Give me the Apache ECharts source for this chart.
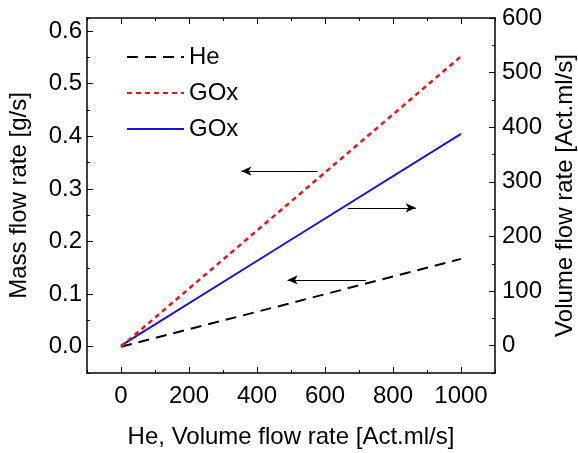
<!DOCTYPE html>
<html>
<head>
<meta charset="utf-8">
<script src="https://cdn.jsdelivr.net/npm/echarts@6/dist/echarts.min.js"></script>
<style>html,body{margin:0;padding:0;background:#fff}#c{width:578px;height:453px}</style>
</head>
<body>
<div id="c"></div>
<script>
// Data
const heX = [0, 500, 1000];
const heMass = [0, 0.083, 0.167];          // g/s, left axis
const goxX = [0, 500, 1000];
const goxMass = [0, 0.276, 0.552];         // g/s, left axis
const goxVol = [0, 194, 388];              // Act.ml/s, right axis
const xTicks = [0, 200, 400, 600, 800, 1000];
const yLeftTicks = [0, 0.1, 0.2, 0.3, 0.4, 0.5, 0.6];
const yRightTicks = [0, 100, 200, 300, 400, 500, 600];
const seriesNames = ['He', 'GOx', 'GOx '];
// arrows: [fromX, toX, massLevel]
const arrows = [[578, 354, 0.334], [667, 867, 0.264], [720, 490, 0.127]];

const FONT = 'Liberation Sans';
const FS = 24;
const pair = (xs, ys) => xs.map((x, i) => [x, ys[i]]);

const baseX = {
  min: -100, max: 1100, interval: 100,
  axisLine: {show: true, onZero: false, lineStyle: {color: '#000', width: 1.5}},
  axisTick: {show: true, inside: true, length: 3, lineStyle: {color: '#000', width: 1}},
  splitLine: {show: false}
};
const chart = echarts.init(document.getElementById('c'));
chart.setOption({
  backgroundColor: '#fff',
  animation: false,
  grid: {left: 87, right: 83, top: 18, bottom: 80, containLabel: false, outerBoundsMode: 'none'},
  legend: {
    orient: 'vertical', left: 121, top: 40, itemWidth: 57, itemHeight: 14, itemGap: 12,
    data: seriesNames,
    itemStyle: {opacity: 0},
    textStyle: {fontFamily: FONT, fontSize: FS, color: '#000'},
    formatter: n => n.trim()
  },
  xAxis: [
    Object.assign({}, baseX, {
      position: 'bottom',
      name: 'He, Volume flow rate [Act.ml/s]', nameLocation: 'middle', nameGap: 52,
      nameTextStyle: {fontFamily: FONT, fontSize: FS, color: '#000'},
      axisLabel: {fontFamily: FONT, fontSize: FS, color: '#000', margin: 11,
        customValues: xTicks, formatter: v => String(v)}
    }),
    Object.assign({}, baseX, {position: 'top', axisLabel: {show: false}}),
    Object.assign({}, baseX, {position: 'bottom', axisLine: {show: false, onZero: false}, axisLabel: {show: false},
      axisTick: {show: true, inside: true, length: 6, customValues: xTicks, lineStyle: {color: '#000', width: 1}}}),
    Object.assign({}, baseX, {position: 'top', axisLine: {show: false, onZero: false}, axisLabel: {show: false},
      axisTick: {show: true, inside: true, length: 6, customValues: xTicks, lineStyle: {color: '#000', width: 1}}})
  ],
  yAxis: [
    {
      position: 'left', min: -0.05, max: 0.625, interval: 0.05,
      name: 'Mass flow rate [g/s]', nameLocation: 'middle', nameGap: 56, nameRotate: 90,
      nameTextStyle: {fontFamily: FONT, fontSize: FS, color: '#000'},
      axisLine: {show: true, onZero: false, lineStyle: {color: '#000', width: 1.5}},
      axisTick: {show: true, inside: true, length: 3, lineStyle: {color: '#000'}},
      axisLabel: {fontFamily: FONT, fontSize: FS, color: '#000', margin: 5,
        customValues: yLeftTicks, formatter: v => v.toFixed(1)},
      splitLine: {show: false}
    },
    {
      position: 'right', min: -50, max: 600, interval: 50,
      name: 'Volume flow rate [Act.ml/s]', nameLocation: 'middle', nameGap: 54, nameRotate: 90,
      nameTextStyle: {fontFamily: FONT, fontSize: FS, color: '#000'},
      axisLine: {show: true, onZero: false, lineStyle: {color: '#000', width: 1.5}},
      axisTick: {show: true, inside: true, length: 3, lineStyle: {color: '#000'}},
      axisLabel: {fontFamily: FONT, fontSize: FS, color: '#000', margin: 7,
        customValues: yRightTicks, formatter: v => String(v)},
      splitLine: {show: false}
    },
    {
      position: 'left', min: -0.05, max: 0.625,
      axisLine: {show: false, onZero: false}, axisLabel: {show: false}, splitLine: {show: false},
      axisTick: {show: true, inside: true, length: 6, customValues: yLeftTicks, lineStyle: {color: '#000'}}
    },
    {
      position: 'right', min: -50, max: 600,
      axisLine: {show: false, onZero: false}, axisLabel: {show: false}, splitLine: {show: false},
      axisTick: {show: true, inside: true, length: 6, customValues: yRightTicks, lineStyle: {color: '#000'}}
    }
  ],
  series: [
    {
      name: seriesNames[0], type: 'line', xAxisIndex: 0, yAxisIndex: 0,
      data: pair(heX, heMass), symbol: 'none', z: 3,
      lineStyle: {color: '#000', width: 2, type: [11, 7]}, itemStyle: {color: '#000'},
      markLine: {
        silent: true, symbol: ['none', 'arrow'], symbolSize: [7, 10],
        label: {show: false},
        lineStyle: {color: '#000', width: 1, type: 'solid'},
        data: arrows.map(a => [{coord: [a[0], a[2]]}, {coord: [a[1], a[2]]}])
      }
    },
    {
      name: seriesNames[1], type: 'line', xAxisIndex: 0, yAxisIndex: 0,
      data: pair(goxX, goxMass), symbol: 'none', z: 4,
      lineStyle: {color: '#ee1111', width: 2.5, type: [5, 4]}, itemStyle: {color: '#ee1111'}
    },
    {
      name: seriesNames[2], type: 'line', xAxisIndex: 0, yAxisIndex: 1,
      data: pair(goxX, goxVol), symbol: 'none', z: 2,
      lineStyle: {color: '#1515d8', width: 2}, itemStyle: {color: '#1515d8'}
    }
  ]
});
</script>
</body>
</html>
